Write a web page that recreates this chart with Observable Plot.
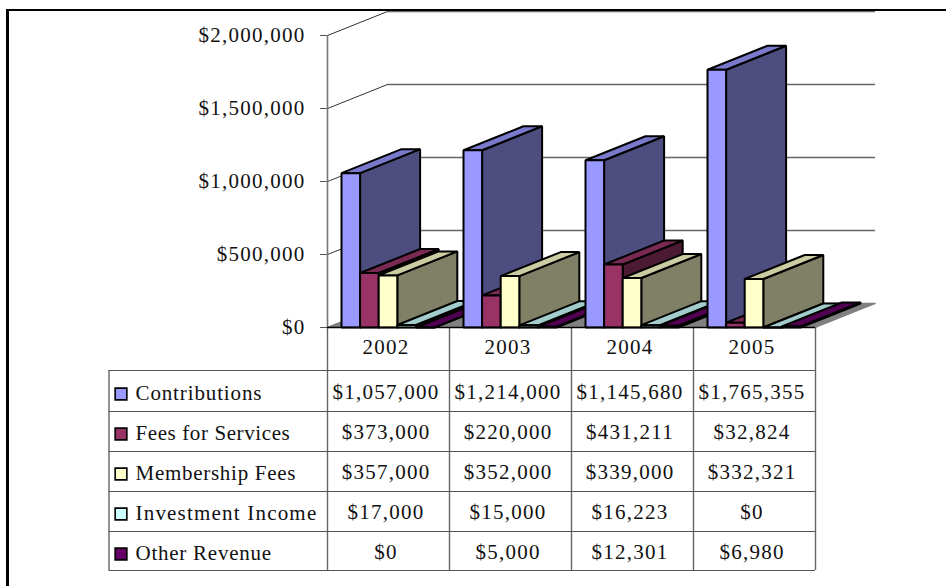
<!DOCTYPE html>
<html><head><meta charset="utf-8">
<script src="https://cdn.jsdelivr.net/npm/d3@7"></script>
<script src="https://cdn.jsdelivr.net/npm/@observablehq/plot@0.6"></script>
<style>
html,body{margin:0;padding:0;background:#fff}
#wrap{position:relative;width:946px;height:586px;overflow:hidden}
#frame{position:absolute;left:6px;top:9px;right:-5px;bottom:-5px;border:solid #000;border-width:2px 0 0 3px;pointer-events:none}
svg{display:block;position:absolute;left:0;top:0}
svg text{letter-spacing:1.25px}
</style></head><body><div id="wrap"><div id="frame"></div></div>
<script>
const years = ["2002","2003","2004","2005"];
const seriesNames = ["Contributions","Fees for Services","Membership Fees","Investment Income","Other Revenue"];
const contributions = [1057000,1214000,1145680,1765355];
const feesForServices = [373000,220000,431211,32824];
const membershipFees = [357000,352000,339000,332321];
const investmentIncome = [17000,15000,16223,0];
const otherRevenue = [0,5000,12301,6980];
const yTicks = [0,500000,1000000,1500000,2000000];
const frontColors = ["#9999FF","#993366","#FFFFCC","#CCFFFF","#660066"];
const sideColors = ["#4D4D80","#4D1A33","#808066","#668080","#330033"];
const topColors = ["#7A7ACC","#7A2952","#CCCCA3","#A3CCCC","#520052"];
const labelSpacing = [0.87,0.6,0.72,1.2,0.75];
const allSeries = [contributions,feesForServices,membershipFees,investmentIncome,otherRevenue];

// Scale geometry: 1 category = 122px; $1M = 146px; depth projection = 60px across, 24px up.
const unitX = 122, unitY = 146 / 1e6;
const depthX = 60 / unitX, depthY = 24 / unitY;
const bandPad = 14 / unitX, barW = 18.6 / unitX;
const rowYpx = [327,370,411,451,491,531,570];
const yAt = p => (327 - p) / unitY;
const xAt = p => (p - 327) / unitX;
const usd = d => "$" + d3.format(",")(d);

const faces = [];
function face(id, color, pts){ pts.forEach(([x,y]) => faces.push({id,color,x,y})); }
face("floor","#808080",[[0,0],[4,0],[4+depthX,depthY],[depthX,depthY]]);
years.forEach((yr,c) => seriesNames.forEach((s,k) => {
  const v = allSeries[k][c], x0 = c + bandPad + k*barW, x1 = x0 + barW, id = yr+"-"+k;
  face(id+"-side", sideColors[k], [[x1,0],[x1+depthX,depthY],[x1+depthX,v+depthY],[x1,v]]);
  face(id+"-top", topColors[k], [[x0,v],[x1,v],[x1+depthX,v+depthY],[x0+depthX,v+depthY]]);
  face(id+"-front", frontColors[k], [[x0,0],[x1,0],[x1,v],[x0,v]]);
}));
const isBar = d => d.id !== "floor";

const colX = c => c + .5 - 2.5/unitX;
const headerRows = years.map((y,c)=>({t:y,x:colX(c),y:yAt(346.5)}));
const cells = [];
seriesNames.forEach((s,k)=>allSeries[k].forEach((v,c)=>cells.push({t:usd(v),x:colX(c),y:yAt(392+40*k)})));
const labels = seriesNames.map((s,k)=>({t:s,x:xAt(135),y:yAt(393+40*k)}));
const keys = seriesNames.map((s,k)=>({x:xAt(120.5),y:yAt(393.5+40*k),c:frontColors[k]}));
const vRules = [0,1,2,3,4];
const FS = 21;

const chart = Plot.plot({
  width:946,height:586,
  marginLeft:327,marginRight:71,marginTop:35,marginBottom:259,
  x:{domain:[0,4+depthX],axis:null},
  y:{domain:[0,2000000],axis:null,label:null},
  color:{type:"identity"},
  style:{fontFamily:"'Liberation Serif',serif",fontSize:FS+"px",color:"#111",background:"transparent"},
  marks:[
    // walls
    Plot.ruleY(yTicks,{y:d=>d+depthY,x1:depthX,x2:4+depthX,stroke:"#666",strokeWidth:1.6}),
    Plot.link(yTicks,{x1:0,y1:d=>d,x2:depthX,y2:d=>d+depthY,stroke:"#333",strokeWidth:1}),
    Plot.line(faces.filter(d=>!isBar(d)),{x:"x",y:"y",z:"id",fill:"color",stroke:"#808080",strokeWidth:1,curve:"linear-closed"}),
    Plot.ruleX([0],{y1:0,y2:2000000,stroke:"#777",strokeWidth:1.6}),
    Plot.axisY({ticks:yTicks,tickFormat:usd,tickSize:7,tickPadding:15,anchor:"left",label:null,fontSize:FS,stroke:"#555",tickStrokeWidth:1}),
    // bars
    Plot.line(faces.filter(isBar),{x:"x",y:"y",z:"id",fill:"color",stroke:"#000",strokeWidth:2,strokeLinejoin:"miter",curve:"linear-closed"}),
    // data table
    Plot.ruleX(vRules,{x:d=>d,y1:yAt(327),y2:yAt(rowYpx[6]),stroke:"#666",strokeWidth:1.4}),
    Plot.ruleX([xAt(108.5)],{y1:yAt(rowYpx[1]),y2:yAt(rowYpx[6]),stroke:"#666",strokeWidth:1.4}),
    Plot.ruleY(rowYpx.slice(1),{y:yAt,x1:xAt(108.5),x2:4,stroke:"#555",strokeWidth:1.2}),
    Plot.ruleY([rowYpx[0]],{y:yAt,x1:0,x2:4,stroke:"#000",strokeWidth:1.5}),
    Plot.text(headerRows,{x:"x",y:"y",text:"t",fontSize:FS,lineAnchor:"middle"}),
    Plot.text(cells,{x:"x",y:"y",text:"t",fontSize:FS,lineAnchor:"middle"}),
    Plot.text(labels,{x:"x",y:"y",text:"t",fontSize:FS,textAnchor:"start",lineAnchor:"middle"}),
    Plot.dot(keys,{x:"x",y:"y",fill:"c",stroke:"#000",strokeWidth:1.6,symbol:"square",r:6.6})
  ]
});
d3.select(chart).selectAll("text").each(function(){
  const k = seriesNames.indexOf(this.textContent);
  if (k >= 0) this.style.letterSpacing = labelSpacing[k] + "px";
});
document.getElementById("wrap").prepend(chart);
</script></body></html>
